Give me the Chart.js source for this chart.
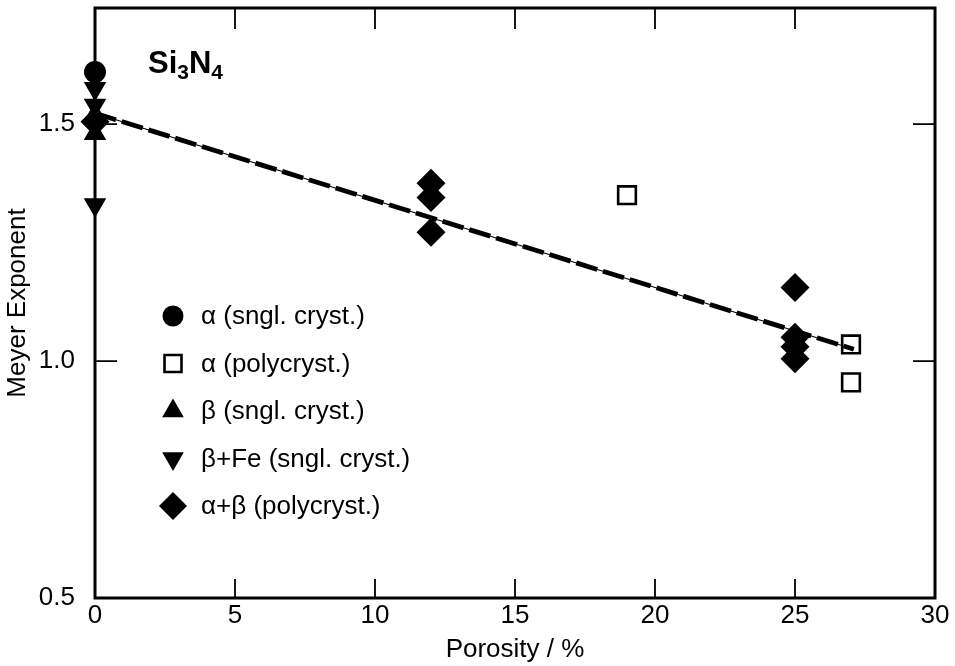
<!DOCTYPE html>
<html>
<head>
<meta charset="utf-8">
<script src="https://cdn.jsdelivr.net/npm/chart.js@4.4.0/dist/chart.umd.min.js"></script>
<style>
  body { margin: 0; background: #fff; }
  #wrap { width: 955px; height: 666px; }
</style>
</head>
<body>
<div id="wrap"><canvas id="graph"></canvas></div>
<script>
'use strict'

// porosity (%) vs Meyer exponent, one pair of arrays per sample group
let alphaSnglX = [0];
let alphaSnglY = [1.61];
let alphaPolyX = [19, 27, 27];
let alphaPolyY = [1.35, 1.035, 0.955];
let betaSnglX = [0, 0];
let betaSnglY = [1.52, 1.48];
let betaFeX = [0, 0, 0];
let betaFeY = [1.575, 1.54, 1.33];
let alphaBetaX = [0, 12, 12, 12, 25, 25, 25, 25];
let alphaBetaY = [1.505, 1.375, 1.345, 1.272, 1.155, 1.05, 1.03, 1.005];

// end points of the linear fit
let fitX = [0, 27.1];
let fitY = [1.523, 1.025];

let xTicks = [0, 5, 10, 15, 20, 25, 30];
let yTicks = [0.5, 1.0, 1.5];
let names = ['α (sngl. cryst.)', 'α (polycryst.)', 'β (sngl. cryst.)', 'β+Fe (sngl. cryst.)', 'α+β (polycryst.)'];

const FONT = "'Liberation Sans', Arial, sans-serif";

function pts (xs, ys) {
    return xs.map((v, i) => ({x: v, y: ys[i]}));
}

function markerSet (label, xs, ys, style, radius, rotation, filled) {
    return {
        label: label,
        data: pts(xs, ys),
        pointStyle: style,
        pointRadius: radius,
        pointRotation: rotation,
        pointBackgroundColor: filled ? '#000' : '#fff',
        pointBorderColor: '#000',
        pointBorderWidth: filled ? 0 : 2.6,
        showLine: false,
        clip: false
    };
}

let markers = [
    markerSet(names[0], alphaSnglX, alphaSnglY, 'circle', 11, 0, true),
    markerSet(names[1], alphaPolyX, alphaPolyY, 'rect', 12.5, 0, false),
    markerSet(names[2], betaSnglX, betaSnglY, 'triangle', 13, 0, true),
    markerSet(names[3], betaFeX, betaFeY, 'triangle', 13, 180, true),
    markerSet(names[4], alphaBetaX, alphaBetaY, 'rectRot', 14.5, 0, true)
];

let fitLines = [{
    label: 'fit dashed',
    data: pts(fitX, fitY),
    showLine: true,
    pointRadius: 0,
    borderColor: '#000',
    borderWidth: 4.8,
    borderDash: [22, 6],
    clip: false
}, {
    label: 'fit',
    data: pts(fitX, fitY),
    showLine: true,
    pointRadius: 0,
    borderColor: '#000',
    borderWidth: 1.2,
    clip: false
}];

// box with inward ticks on all four sides
const frame = {
    id: 'frame',
    beforeDatasetsDraw (chart) {
        const {ctx, chartArea: a, scales: {x, y}} = chart;
        ctx.save();
        ctx.strokeStyle = '#000';
        ctx.lineWidth = 1.8;
        ctx.beginPath();
        xTicks.slice(1, -1).forEach(v => {
            const px = x.getPixelForValue(v);
            ctx.moveTo(px, a.bottom); ctx.lineTo(px, a.bottom - 19);
            ctx.moveTo(px, a.top); ctx.lineTo(px, a.top + 21);
        });
        yTicks.slice(1).forEach(v => {
            const py = y.getPixelForValue(v);
            ctx.moveTo(a.left, py); ctx.lineTo(a.left + 22, py);
            ctx.moveTo(a.right, py); ctx.lineTo(a.right - 22, py);
        });
        ctx.stroke();
        ctx.lineWidth = 3;
        ctx.strokeRect(a.left, a.top, a.width, a.height);
        ctx.restore();
    }
};

// compound label and the symbol key inside the plot
const notes = {
    id: 'notes',
    afterDraw (chart) {
        const ctx = chart.ctx;
        ctx.save();
        ctx.fillStyle = '#000';
        ctx.textBaseline = 'alphabetic';
        ctx.textAlign = 'left';
        let tx = 148;
        [['Si', 0], ['3', 1], ['N', 0], ['4', 1]].forEach(([s, sub]) => {
            ctx.font = sub ? `bold 21px ${FONT}` : `bold 31px ${FONT}`;
            ctx.fillText(s, tx, sub ? 79 : 73);
            tx += ctx.measureText(s).width;
        });

        ctx.font = `26px ${FONT}`;
        ctx.textBaseline = 'middle';
        markers.forEach((ds, i) => {
            const yy = 316 + i * 47.5;
            ctx.fillStyle = ds.pointBackgroundColor;
            ctx.strokeStyle = '#000';
            ctx.lineWidth = ds.pointBorderWidth;
            Chart.helpers.drawPoint(ctx, {
                pointStyle: ds.pointStyle,
                rotation: ds.pointRotation,
                radius: ds.pointRadius - 0.5,
                borderWidth: ds.pointBorderWidth
            }, 173, yy);
            ctx.fillStyle = '#000';
            ctx.fillText(names[i], 201, yy + 1);
        });
        ctx.restore();
    }
};

new Chart('graph', {
    type: 'scatter',
    data: {
        datasets: fitLines.concat(markers)
    },
    options: {
        responsive: true,
        maintainAspectRatio: false,
        animation: false,
        layout: {
            autoPadding: false,
            padding: {top: 8, right: 20, left: 0, bottom: 0}
        },
        plugins: {
            legend: {display: false},
            tooltip: {enabled: false}
        },
        scales: {
            x: {
                type: 'linear',
                min: 0,
                max: 30,
                afterBuildTicks: scale => { scale.ticks = xTicks.map(v => ({value: v})); },
                afterFit: scale => {
                    scale.height = 68;
                    scale.paddingLeft = 0;
                    scale.paddingRight = 0;
                },
                grid: {display: false, drawTicks: false},
                border: {display: false},
                ticks: {
                    color: '#000',
                    font: {family: FONT, size: 26},
                    padding: 2,
                    maxRotation: 0
                },
                title: {
                    display: true,
                    text: 'Porosity / %',
                    color: '#000',
                    font: {family: FONT, size: 26, lineHeight: 1.2},
                    padding: {top: 0, bottom: 1}
                }
            },
            y: {
                type: 'linear',
                min: 0.5,
                max: 1.745,
                afterBuildTicks: scale => { scale.ticks = yTicks.map(v => ({value: v})); },
                afterFit: scale => {
                    scale.width = 95;
                    scale.paddingTop = 0;
                    scale.paddingBottom = 0;
                },
                grid: {display: false, drawTicks: false},
                border: {display: false},
                ticks: {
                    color: '#000',
                    font: {family: FONT, size: 26},
                    padding: 20,
                    callback: v => v.toFixed(1)
                },
                title: {
                    display: true,
                    text: 'Meyer Exponent',
                    color: '#000',
                    font: {family: FONT, size: 26, lineHeight: 1.2},
                    padding: {top: 2, bottom: 0}
                }
            }
        }
    },
    plugins: [frame, notes]
});
</script>
</body>
</html>
